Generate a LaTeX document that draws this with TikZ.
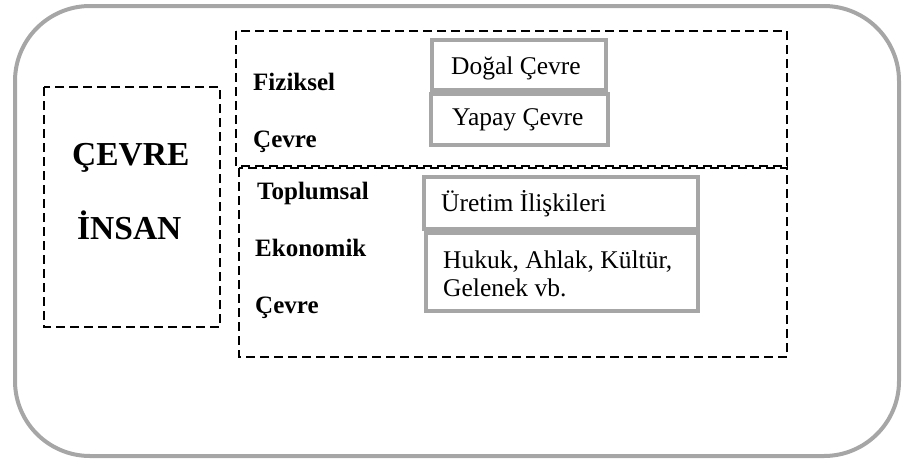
\documentclass[tikz,border=0pt]{standalone}
\usepackage{fontspec}
\setmainfont{Liberation Serif}
\definecolor{boxgray}{HTML}{A6A6A6}
\tikzset{
  outerbox/.style={draw=boxgray, line width=4pt, rounded corners=75pt},
  dashbox/.style={draw=black, line width=1.6pt, dash pattern=on 9pt off 5pt},
  graybox/.style={draw=boxgray, line width=4.5pt, fill=white},
  lbl/.style={anchor=base west, inner sep=0pt, font=\fontsize{25}{28}\selectfont\bfseries},
  big/.style={anchor=base west, inner sep=0pt, font=\fontsize{33.5}{36}\selectfont\bfseries},
  txt/.style={anchor=base west, inner sep=0pt, align=left, font=\fontsize{25.5}{28}\selectfont},
}
\begin{document}
\begin{tikzpicture}[x=1pt,y=-1pt]
\useasboundingbox (0,0) rectangle (905,466);
% outer rounded frame
\draw[outerbox] (15,6) rectangle (899,456);
% dashed boxes
\draw[dashbox] (44,87) rectangle (220,327);
\draw[dashbox] (236,31) rectangle (787,166);
\draw[dashbox] (239,168) rectangle (787,357);
% gray boxes
\draw[graybox] (432,40) rectangle (606,90);
\draw[graybox] (431,94) rectangle (608,145);
\draw[graybox] (424,177) rectangle (698,229);
\draw[graybox] (426,233) rectangle (698,311);
% big labels
\node[big] (cevre) at (72,165) {ÇEVRE};
\node[big] (insan) at (77,239) {İNSAN};
% side labels
\node[lbl] (fiz) at (253,90) {Fiziksel};
\node[lbl] (fizc) at (253,147) {Çevre};
\node[lbl] (top) at (257,199) {Toplumsal};
\node[lbl] (eko) at (255,256) {Ekonomik};
\node[lbl] (topc) at (255,313) {Çevre};
% box texts
\node[txt] (dogal) at (451,74) {Doğal Çevre};
\node[txt] (yapay) at (452,125) {Yapay Çevre};
\node[txt] (uretim) at (441,211) {Üretim İlişkileri};
\node[txt] (hukuk) at (443,296) {Hukuk, Ahlak, Kültür,\\Gelenek vb.};
\end{tikzpicture}
\end{document}
